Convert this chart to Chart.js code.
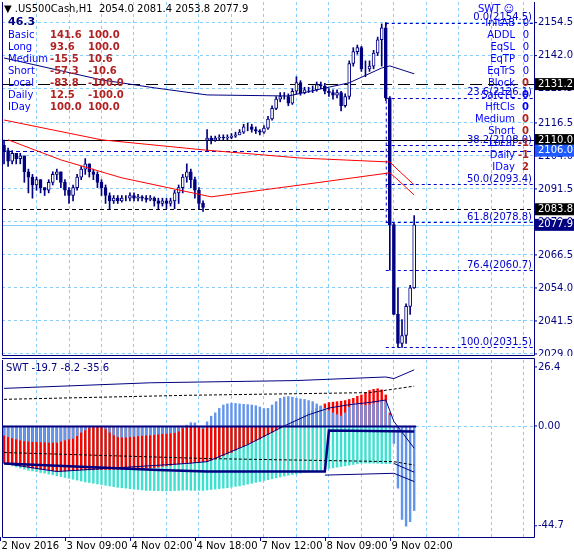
<!DOCTYPE html>
<html><head><meta charset="utf-8">
<script src="https://cdn.jsdelivr.net/npm/chart.js@4/dist/chart.umd.min.js"></script>
<style>
body{margin:0;background:#fff;width:574px;height:556px;overflow:hidden;position:relative;font-family:"DejaVu Sans",sans-serif}
canvas{position:absolute;left:0}
.t{position:absolute;font-size:10px;line-height:12px;white-space:nowrap}
.b{color:#0000ff}.r{color:#b22222;font-weight:bold}
</style></head><body>
<canvas id="c1" width="574" height="356" style="top:0"></canvas>
<canvas id="c2" width="574" height="200" style="top:356px"></canvas>
<div id="ov"></div>
<script>
// ---------- DATA ----------
const priceCloses=[2106,2102,2105,2103,2104,2098,2096,2093,2095,2092,
2091,2094,2097,2098,2094,2091,2089,2092,2096,2099,
2101,2098,2097,2094,2092,2089,2087,2088,2087,2088,
2088,2089,2088,2088.5,2088,2087.5,2088,2087,2086,2087,
2086,2087,2090,2092,2096,2098,2095,2091,2086,2084.5,
2110.8,2110,2110.8,2111,2110.8,2111,2111.5,2112,2113,2115,
2115,2114,2113.5,2113,2114.5,2118,2122,2125.5,2126.5,2126.5,
2124,2128.5,2131.8,2128,2129,2129,2129,2131,2130.5,2128.5,
2128,2127,2128,2123,2126.5,2139,2143.5,2145,2137,2137,
2138,2143,2148,2152.5,
2126,2078,2044,2033,2036,2047,2054,2077.9];
const priceOpensGap={0:2108,50:2110};
const priceHighs=[2110,2107,2106,2105,2105,2104,2099,2097,2096,2095,
2092,2095,2098,2099,2098,2095,2092,2093,2097,2100,
2103,2101,2099,2098,2095,2093,2090,2089,2089,2089,
2089,2090,2090,2089.5,2089,2089,2089,2088.5,2088,2088,
2088,2088,2091,2093,2097,2101,2099,2096,2092,2087,
2114,2111.5,2111.5,2112,2112,2112,2112.5,2113,2114,2116,
2116.5,2116,2115,2114,2115.5,2119,2123,2126.5,2128,2128,
2127.5,2129.5,2134,2132.5,2130,2130,2130.5,2132,2132,2131.5,
2129.5,2129,2129,2128.5,2127.5,2140,2145,2146,2145.5,2140,
2140,2144,2149,2154,
2154.5,2126.5,2078.5,2054,2042,2048,2055,2081.4];
const priceLows=[2101,2100,2101,2101,2101,2094,2090,2088,2091,2090,
2089,2090,2093,2095,2092,2089,2086,2087,2091,2095,
2097,2096,2095,2092,2089,2086,2084,2086,2086,2086.5,
2087,2087,2087,2087,2087,2086.5,2087,2085,2084,2085,
2084,2085,2084,2086,2090,2094,2092,2088,2084,2083,
2106,2108.5,2109.5,2110,2110,2110,2110.5,2111,2112,2112.5,
2113.5,2113,2112.5,2112,2112.5,2114,2117.5,2121.5,2124.5,2125.5,
2123,2123.5,2127.5,2127,2127.5,2128,2128,2128.5,2129.5,2127.5,
2126.5,2125.5,2126,2121,2122.5,2125.5,2138,2142.5,2136,2134,
2136,2137,2142,2138,
2125,2060.7,2044,2031.5,2031.5,2033,2044,2053.8];
const maBlue={0:2141.1,24:2132.8,37:2129.8,50:2127.1,70:2126.7,85:2131.7,93:2137.3,95:2138.1,101:2135.1};
const maRed1={0:2117.6,24:2110.1,49:2106.3,73:2103.2,95:2101.7,97:2098.7,101:2093};
const maRed2={1:2110.1,14:2102.5,29:2095.7,51:2088.5,73:2093,95:2097.6,97:2094.9,101:2089.2};
const priceTickLabels=['2029.0','2041.5','2054.0','2066.5','2079.0','2091.5','2104.0','2116.5','2129.5','2142.0','2154.5'];
const hLines=[{v:2131.2,c:'#000',d:[12,6]},{v:2110.0,c:'#000',d:[]},{v:2106.0,c:'#0000cd',d:[4,3]},{v:2083.8,c:'#000',d:[4,3]},{v:2077.9,c:'#87cefa',d:[]}];
const axisBoxes=[{v:2131.2,bg:'#000'},{v:2110.0,bg:'#000'},{v:2106.0,bg:'#1e5aff'},{v:2083.8,bg:'#000'},{v:2077.9,bg:'#000080'}];
const fibLevels=[0.0,23.6,38.2,50.0,61.8,76.4,100.0];
const fibPrices=[2154.5,2126.1,2108.0,2093.4,2078.8,2060.7,2031.5];
const timeLabels=['2 Nov 2016','3 Nov 09:00','4 Nov 02:00','4 Nov 18:00','7 Nov 12:00','8 Nov 09:00','9 Nov 02:00'];
const swtBlue=[-4.3,-5,-5.5,-6,-6.5,-6.8,-7,-7.2,-7.2,-7.3,
-7.4,-7.5,-7.5,-7.5,-7,-6.5,-6,-5.7,-4.5,-3,
-2,-1,-0.5,-0.3,-0.3,-1.5,-3,-4.2,-5,-5.2,
-5.2,-5,-4.8,-4.6,-4.4,-4.3,-4.2,-4,-3.8,-3.6,
-3.5,-3.3,-3.1,-2.5,-1,0.5,1.6,1.5,0,-1.3,
2,4.5,6,8,9.5,10,10.3,10.2,10,9.8,
9.7,9.5,9.2,8.6,7.9,8,9.5,11,12.5,13.1,
13.3,13,12.5,12.2,12,11.5,11,10,9,8,
7,6,5.2,4.6,6,8.5,10.1,10,9.5,9.3,
9.5,10.1,10.5,11.6,11,5,-8,-28,-42,-45,-43,-38];
const swtRed=[-16.8,-17,-17.3,-17.6,-18,-18.3,-18.6,-19,-19.3,-19.5,
-19.7,-19.9,-20.1,-20.4,-20.4,-20.3,-20.2,-20,-19.9,-19.8,
-19.8,-19.8,-19.8,-19.7,-19.7,-19.7,-19.7,-19.6,-19.6,-19.6,
-19.6,-19.5,-19.5,-19.4,-19.3,-19.2,-19,-18.8,-18.5,-18.2,
-18,-17.8,-17.5,-17.2,-17,-16.8,-16.8,-16.5,-16.3,-16.1,
-16,-15.5,-15,-14.3,-13.5,-12.7,-12,-11,-10,-9.2,
-8.4,-7.6,-6.8,-6,-5,-4,-3,-2,-1,0,
1,2,3,4,5,6,7,8,9,10,
10.6,10.8,11,11.2,11.5,12,12.5,13.4,14,15,
16,16.5,16.8,16.3,14,6,0,0,0,0,0,0];
const swtCyan=[-17,-17.5,-18,-18.5,-19,-19.5,-20,-20.3,-20.6,-21,
-21.3,-21.7,-22,-22.4,-22.8,-23.2,-23.6,-24,-24.4,-24.8,
-25.2,-25.5,-25.8,-26.1,-26.4,-26.7,-27,-27.3,-27.6,-27.8,
-28,-28.2,-28.4,-28.6,-28.8,-29,-29,-29.1,-29.1,-29.2,
-29.2,-29.2,-29.1,-29,-28.9,-28.8,-29,-29,-29,-29,
-28.8,-28.6,-28.4,-28.2,-28,-27.8,-27.5,-27.2,-27,-26.6,
-26.2,-25.8,-25.4,-25,-24.6,-24.2,-23.8,-23.4,-23,-22.6,
-22.2,-21.9,-21.6,-21.3,-21,-20.7,-20.4,-20.1,-19.8,-19.5,
-19.2,-18.9,-18.6,-18.3,-18,-17.7,-17.4,-17.1,-16.8,-16.8,
-16.8,-16.8,-16.9,-17,-17,-17,0,0,0,0,0,0];
const swtUpper={0:16.8,36:19.3,72:20.3,94:21.9,96:21.2,101:25.1};
const swtUpperDash={0:11.9,45:13.7,90:14.9,101:17.8};
const swtThin={0:-16.8,13:-20.4,45:-16.8,50:-16,60:-8.4,69:0,75:5,80:8,85:9.5,90:10.5,94:11.6,96:2,101:-10};
const swtStep={0:-16.8,38:-19.7,50:-20.4,79:-20.4,80:-2.1,101:-2.5};
const swtLowerDash={0:-11.9,50:-14.6,96:-16,101:-17.5};
const swtLow1={79:-22,96:-21.2,101:-24.9};
const swtLow2={96:-16.8,101:-20.7};
const swtTicks=[26.4,0,-44.7];
// ---------- BUILD ----------
const N=131, n=priceCloses.length;
const cats=[...Array(N).keys()];
const opens=priceCloses.map((c,i)=>priceOpensGap[i]!==undefined?priceOpensGap[i]:priceCloses[i-1]);
const pad=a=>{const r=a.slice();while(r.length<N)r.push(null);return r;};
const sparse=o=>{const r=Array(N).fill(null);for(const k in o)r[+k]=o[k];return r;};
const NAVY='#000080', GRID='#87cefa';
const F='10px "DejaVu Sans"';
Chart.defaults.font.family='"DejaVu Sans"';
Chart.defaults.font.size=10;
function lineDS(obj,color,w,dash){return {type:'line',data:sparse(obj),borderColor:color,borderWidth:w,borderDash:dash||[],pointRadius:0,spanGaps:true,tension:0,order:0};}
const xGrid={display:true,offset:true,grid:{offset:false,color:c=>(c.index%8===0&&c.index>0)?GRID:'transparent',drawTicks:false},border:{display:false,dash:[3,3]},ticks:{display:false},afterFit:s=>{s.height=0;}};

const topPlugin={id:'tp',
beforeDatasetsDraw(ch){const {ctx,chartArea:a,scales:{x,y}}=ch;ctx.save();
 hLines.forEach(h=>{const py=Math.round(y.getPixelForValue(h.v))+0.5;ctx.strokeStyle=h.c;ctx.setLineDash(h.d);ctx.lineWidth=1;ctx.beginPath();ctx.moveTo(a.left,py);ctx.lineTo(a.right,py);ctx.stroke();});
 const fx=x.getPixelForValue(94);ctx.strokeStyle='#0000cd';ctx.setLineDash([3,3]);
 fibPrices.forEach(p=>{const py=Math.round(y.getPixelForValue(p))+0.5;ctx.beginPath();ctx.moveTo(fx,py);ctx.lineTo(a.right,py);ctx.stroke();});
 ctx.beginPath();ctx.moveTo(fx+0.5,y.getPixelForValue(fibPrices[0]));ctx.lineTo(fx+0.5,y.getPixelForValue(fibPrices[4]));ctx.stroke();
 ctx.restore();},
afterDraw(ch){const {ctx,chartArea:a,scales:{x,y}}=ch;ctx.save();ctx.font=F;
 ctx.fillStyle='#0000cd';ctx.textAlign='right';ctx.textBaseline='bottom';
 fibPrices.forEach((p,i)=>ctx.fillText(fibLevels[i].toFixed(1)+'('+p.toFixed(1)+')',a.right-2,y.getPixelForValue(p)));
 ctx.strokeStyle=NAVY;ctx.lineWidth=1;ctx.setLineDash([]);
 ctx.beginPath();ctx.moveTo(a.left+0.5,a.top);ctx.lineTo(a.left+0.5,a.bottom+0.5);ctx.lineTo(a.right+0.5,a.bottom+0.5);ctx.lineTo(a.right+0.5,a.top);ctx.stroke();
 ctx.textAlign='left';ctx.textBaseline='middle';ctx.fillStyle=NAVY;
 priceTickLabels.forEach(t=>{const py=y.getPixelForValue(parseFloat(t));ctx.beginPath();ctx.moveTo(a.right,py);ctx.lineTo(a.right+3,py);ctx.stroke();ctx.fillText(t,a.right+4,py);});
 axisBoxes.forEach(b=>{const py=y.getPixelForValue(b.v);ctx.fillStyle=b.bg;ctx.fillRect(a.right+1,py-6,40,12);ctx.fillStyle='#fff';ctx.fillText(b.v.toFixed(1),a.right+4,py);});
 ctx.restore();}};

new Chart(document.getElementById('c1'),{type:'bar',
 data:{labels:cats,datasets:[
  lineDS(maBlue,NAVY,1),lineDS(maRed1,'#ff0000',1),lineDS(maRed2,'#ff0000',1),
  {data:pad(priceCloses.map((c,i)=>[Math.min(opens[i],c),Math.max(opens[i],c)])),grouped:false,barThickness:3,
   backgroundColor:pad(priceCloses.map((c,i)=>c>=opens[i]?'#fff':NAVY)),borderColor:NAVY,borderWidth:1,borderSkipped:false,order:1},
  {data:pad(priceLows.map((l,i)=>[l,priceHighs[i]])),grouped:false,barThickness:1,backgroundColor:NAVY,borderWidth:0,order:2}
 ]},
 options:{responsive:false,animation:false,devicePixelRatio:1,layout:{padding:{left:2,right:40,top:2,bottom:1}},
  plugins:{legend:{display:false},tooltip:{enabled:false}},
  scales:{x:xGrid,
   y:{position:'right',min:2028.6,max:2162.3,afterBuildTicks:s=>{s.ticks=priceTickLabels.map(t=>({value:parseFloat(t)}));},
     grid:{color:GRID,drawTicks:false},border:{display:false,dash:[3,3]},ticks:{display:false},afterFit:s=>{s.width=0;}}}},
 plugins:[topPlugin]});

const botPlugin={id:'bp',
beforeDatasetsDraw(ch){const {ctx,chartArea:a,scales:{x,y}}=ch;const py=Math.round(y.getPixelForValue(0))+0.5;ctx.save();
 ctx.strokeStyle=GRID;ctx.setLineDash([3,3]);ctx.beginPath();ctx.moveTo(a.left,py);ctx.lineTo(a.right,py);ctx.stroke();ctx.restore();},
afterDraw(ch){const {ctx,chartArea:a,scales:{x,y}}=ch;ctx.save();ctx.font=F;ctx.strokeStyle=NAVY;ctx.lineWidth=1;
 const zx=x.getPixelForValue(n-1)+2,py=Math.round(y.getPixelForValue(0))+0.5;
 ctx.lineWidth=2;ctx.beginPath();ctx.moveTo(a.left,py);ctx.lineTo(zx,py);ctx.stroke();ctx.lineWidth=1;
 ctx.beginPath();ctx.moveTo(a.left+0.5,a.top);ctx.lineTo(a.left+0.5,a.bottom+0.5);ctx.lineTo(a.right+0.5,a.bottom+0.5);ctx.lineTo(a.right+0.5,a.top-1.5);ctx.lineTo(a.left,a.top-1.5);ctx.stroke();
 ctx.fillStyle=NAVY;ctx.textBaseline='middle';ctx.textAlign='left';
 swtTicks.forEach(t=>{const yy=y.getPixelForValue(t);ctx.beginPath();ctx.moveTo(a.right,yy);ctx.lineTo(a.right+3,yy);ctx.stroke();ctx.fillText(t.toFixed(t===0?2:1),a.right+4,yy);});
 ctx.fillStyle='#000';ctx.textBaseline='top';
 timeLabels.forEach((t,i)=>{const xx=Math.round(x.getPixelForValue(i*16))+0.5-4;ctx.beginPath();ctx.moveTo(xx,a.bottom);ctx.lineTo(xx,a.bottom+4);ctx.stroke();ctx.fillText(t,xx+1,a.bottom+4);});
 ctx.fillStyle=NAVY;ctx.fillText('SWT -19.7 -8.2 -35.6',6,a.top+3);
 ctx.restore();}};

new Chart(document.getElementById('c2'),{type:'bar',
 data:{labels:cats,datasets:[
  lineDS(swtUpper,NAVY,1),lineDS(swtUpperDash,'#000',1,[3,2]),lineDS(swtThin,NAVY,1),lineDS(swtStep,NAVY,2.5),
  lineDS(swtLowerDash,'#000',1,[3,2]),lineDS(swtLow1,NAVY,1),lineDS(swtLow2,NAVY,1),
  {data:pad(swtBlue),grouped:false,barPercentage:0.6,categoryPercentage:1,backgroundColor:'#6495ed',order:1},
  {data:pad(swtRed),grouped:false,barPercentage:0.6,categoryPercentage:1,backgroundColor:'#ff0000',order:2},
  {data:pad(swtCyan),grouped:false,barPercentage:0.6,categoryPercentage:1,backgroundColor:'#40e0d0',order:3}
 ]},
 options:{responsive:false,animation:false,devicePixelRatio:1,layout:{padding:{left:2,right:40,top:4,bottom:19}},
  plugins:{legend:{display:false},tooltip:{enabled:false}},
  scales:{x:xGrid,
   y:{position:'right',min:-49.7,max:29.5,grid:{display:false},border:{display:false},ticks:{display:false},afterFit:s=>{s.width=0;}}}},
 plugins:[botPlugin]});

// ---------- TEXT OVERLAYS ----------
const infoRows=[['Basic','141.6','100.0'],['Long','93.6','100.0'],['Medium','-15.5','10.6'],['Short','-57.3','-10.6'],['Local','-83.8','-100.0'],['Daily','12.5','-100.0'],['IDay','100.0','100.0']];
const stateRows=[['InitAB','0','b'],['ADDL','0','b'],['EqSL','0','b'],['EqTP','0','b'],['EqTrS','0','b'],['Block','0','r'],['SafeTL','0','rb'],['HftCls','0','rb'],['Medium','0','r'],['Short','0','r'],['Local','-1','r'],['Daily','-1','r'],['IDay','2','r']];
let h='<div class="t" style="left:4px;top:3px;color:#000">&#9660; .US500Cash,H1&nbsp; 2054.0 2081.4 2053.8 2077.9</div>';
h+='<div class="t" style="left:8px;top:16px;color:'+NAVY+';font-weight:bold;font-size:11px">46.3</div>';
infoRows.forEach((r,i)=>{const t=29+i*12;h+=`<div class="t b" style="left:8px;top:${t}px">${r[0]}</div><div class="t r" style="left:50px;top:${t}px">${r[1]}</div><div class="t r" style="left:88px;top:${t}px">${r[2]}</div>`;});
h+='<div class="t b" style="left:478px;top:3px">SWT &#9786;</div>';
stateRows.forEach((r,i)=>{const t=17+i*12;const vc=r[2]==='b'?'color:#0000ff':(r[2]==='rb'?'color:#0000ff;font-weight:bold':'color:#b22222;font-weight:bold');
 h+=`<div class="t b" style="right:59px;top:${t}px">${r[0]}</div><div class="t" style="right:45px;top:${t}px;${vc}">${r[1]}</div>`;});
document.getElementById('ov').innerHTML=h;
</script></body></html>
